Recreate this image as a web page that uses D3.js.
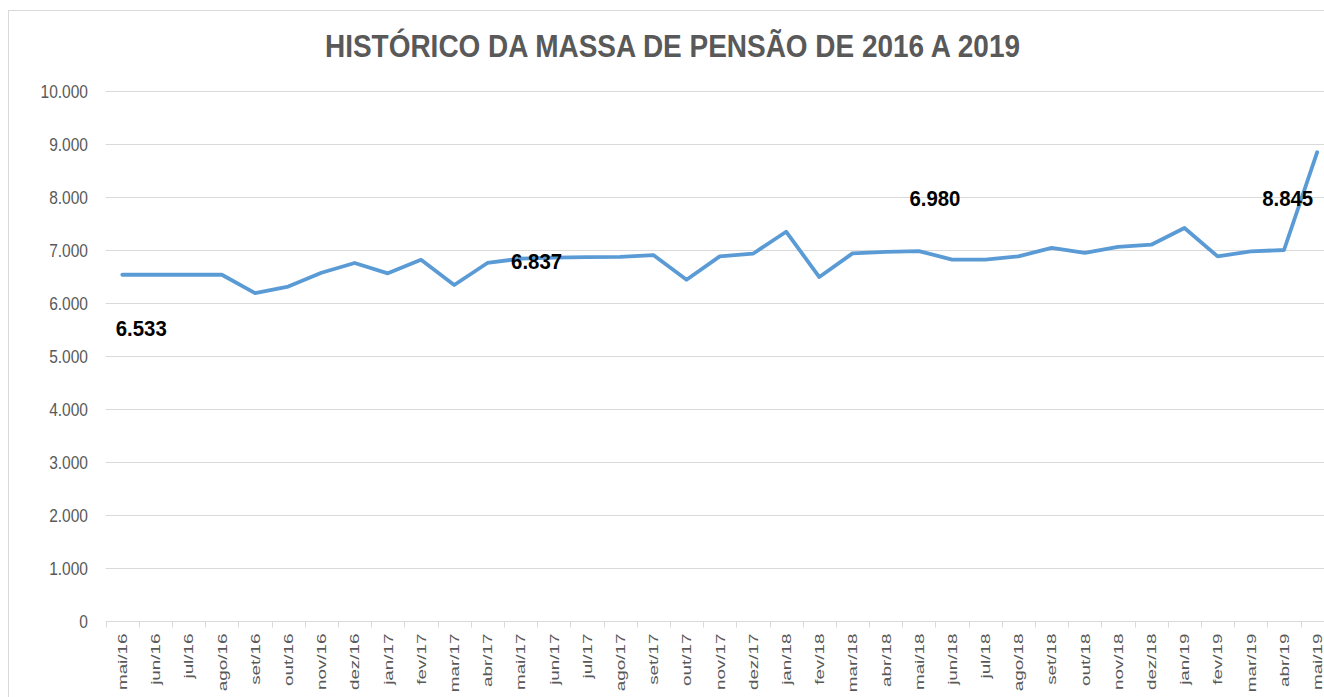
<!DOCTYPE html>
<html>
<head>
<meta charset="utf-8">
<script src="https://cdn.jsdelivr.net/npm/d3@7/dist/d3.min.js"></script>
<style>
  html, body { margin: 0; padding: 0; background: #fff; overflow: hidden; }
  svg { display: block; }
</style>
</head>
<body>
<svg id="chart" width="1324" height="697"></svg>
<script>
// ---- DATA ----
const title = "HISTÓRICO DA MASSA DE PENSÃO DE 2016 A 2019";
const months = [
  "mai/16","jun/16","jul/16","ago/16","set/16","out/16","nov/16","dez/16",
  "jan/17","fev/17","mar/17","abr/17","mai/17","jun/17","jul/17","ago/17",
  "set/17","out/17","nov/17","dez/17","jan/18","fev/18","mar/18","abr/18",
  "mai/18","jun/18","jul/18","ago/18","set/18","out/18","nov/18","dez/18",
  "jan/19","fev/19","mar/19","abr/19","mai/19"
];
const values = [
  6533, 6533, 6533, 6533, 6187, 6310, 6570, 6755,
  6560, 6815, 6340, 6755, 6837, 6855, 6865, 6870,
  6905, 6438, 6880, 6930, 7345, 6490, 6937, 6965,
  6980, 6820, 6820, 6880, 7040, 6945, 7060, 7100,
  7415, 6880, 6975, 7000, 8845
];
const yTicks = [0, 1000, 2000, 3000, 4000, 5000, 6000, 7000, 8000, 9000, 10000];
const labelledMonths = ["mai/16", "mai/17", "mai/18", "mai/19"];

// ---- LAYOUT ----
const svg = d3.select("#chart");
const plot = { left: 105.7, right: 1333.8, top: 91, bottom: 621 };
const labelOffsets = { "mai/16": [19, 61], "mai/17": [16, 10], "mai/18": [16, -45], "mai/19": [-29.5, 54] };

const x = d3.scaleBand().domain(months).range([plot.left, plot.right]).paddingInner(0).paddingOuter(0);
const y = d3.scaleLinear().domain([0, 10000]).range([plot.bottom, plot.top]);
const fmt = v => d3.format(",")(v).replace(/,/g, ".");

// chart border
svg.append("rect")
  .attr("x", 8.5).attr("y", 10.5).attr("width", 1330).attr("height", 700)
  .attr("fill", "none").attr("stroke", "#d9d9d9").attr("stroke-width", 1);

// title
svg.append("text")
  .attr("x", 672.5).attr("y", 57)
  .attr("text-anchor", "middle")
  .attr("font-family", "'Liberation Sans Narrow', 'Liberation Sans', Arial, sans-serif")
  .attr("font-weight", "bold")
  .attr("font-size", 31)
  .attr("fill", "#595959")
  .attr("textLength", 695)
  .attr("lengthAdjust", "spacingAndGlyphs")
  .text(title);

// gridlines
svg.append("g")
  .selectAll("line")
  .data(yTicks.filter(d => d > 0))
  .join("line")
  .attr("x1", plot.left).attr("x2", 1324)
  .attr("y1", d => Math.round(y(d)) + 0.5).attr("y2", d => Math.round(y(d)) + 0.5)
  .attr("stroke", "#d9d9d9").attr("stroke-width", 1);

// y axis labels
const yAxis = d3.axisLeft(y).tickValues(yTicks).tickFormat(fmt).tickSize(0).tickPadding(0);
const gy = svg.append("g").attr("transform", "translate(88,0)").call(yAxis);
gy.select(".domain").remove();
gy.selectAll(".tick text")
  .attr("font-family", "'Liberation Sans', Arial, sans-serif")
  .attr("font-size", 16)
  .attr("fill", "#595959")
  .attr("dy", null)
  .attr("y", 0)
  .attr("transform", "translate(0,6) scale(0.97,1.12)");

// x axis
const xAxis = d3.axisBottom(x).tickSize(0).tickPadding(0);
const gx = svg.append("g").attr("transform", `translate(0,${Math.round(plot.bottom) + 0.5})`).call(xAxis);
gx.select(".domain").attr("stroke", "#d9d9d9").attr("d", `M${plot.left},0H1324`);
gx.selectAll(".tick line").remove();
// tick marks at band boundaries
const edges = months.map(m => x(m));
gx.append("g").selectAll("line")
  .data(edges)
  .join("line")
  .attr("x1", d => Math.round(d) + 0.5).attr("x2", d => Math.round(d) + 0.5)
  .attr("y1", 0).attr("y2", 6)
  .attr("stroke", "#d9d9d9");
gx.selectAll(".tick text")
  .attr("font-family", "'Liberation Sans', Arial, sans-serif")
  .attr("font-size", 13)
  .attr("fill", "#595959")
  .attr("text-anchor", "end")
  .attr("dy", null)
  .attr("y", 0)
  .attr("transform", "translate(0,12) rotate(-90) scale(1.45,1)")
  .attr("dominant-baseline", "central");

// line
const line = d3.line()
  .x((d, i) => x(months[i]) + x.bandwidth() / 2)
  .y(d => y(d));
svg.append("path")
  .datum(values)
  .attr("d", line)
  .attr("fill", "none")
  .attr("stroke", "#5b9bd5")
  .attr("stroke-width", 3.8)
  .attr("stroke-linejoin", "round")
  .attr("stroke-linecap", "round");

// data labels
svg.append("g")
  .selectAll("text")
  .data(labelledMonths)
  .join("text")
  .attr("x", m => x(m) + x.bandwidth() / 2 + labelOffsets[m][0])
  .attr("y", m => y(values[months.indexOf(m)]) + labelOffsets[m][1])
  .attr("text-anchor", "middle")
  .attr("font-family", "'Liberation Sans', Arial, sans-serif")
  .attr("font-weight", "bold")
  .attr("font-size", 22)
  .attr("fill", "#000")
  .attr("textLength", 51)
  .attr("lengthAdjust", "spacingAndGlyphs")
  .text(m => fmt(values[months.indexOf(m)]));
</script>
</body>
</html>
